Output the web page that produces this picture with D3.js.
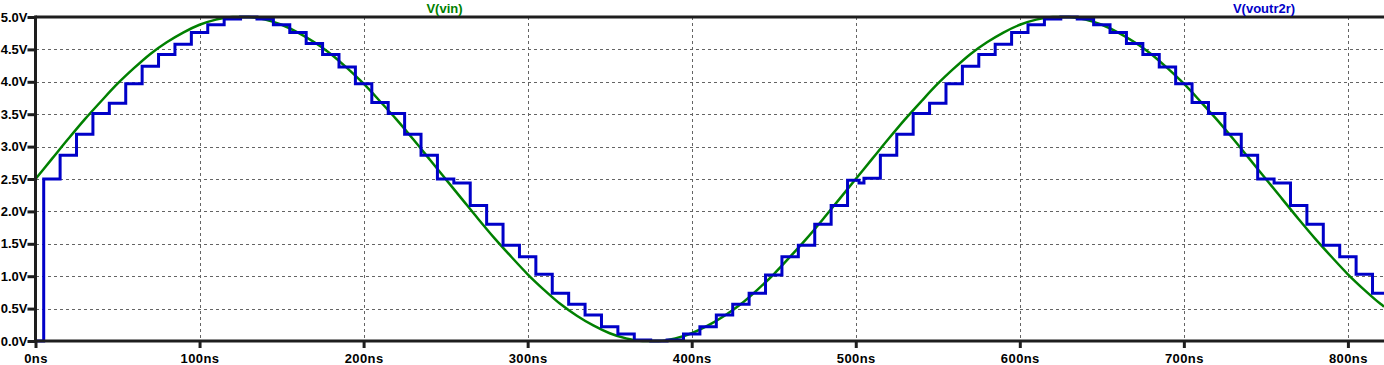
<!DOCTYPE html>
<html>
<head>
<meta charset="utf-8">
<script src="https://cdn.jsdelivr.net/npm/d3@7"></script>
<style>
  html, body { margin: 0; padding: 0; background: #fff; }
  svg { display: block; }
  text { font-family: "Liberation Sans", Arial, sans-serif; font-weight: bold; }
</style>
</head>
<body>
<svg id="chart" width="1384" height="365"></svg>
<script>
// ---- data ----
const xTickValues = [0, 100, 200, 300, 400, 500, 600, 700, 800];
const xTickLabels = ["0ns", "100ns", "200ns", "300ns", "400ns", "500ns", "600ns", "700ns", "800ns"];
const yTickValues = [0, 0.5, 1, 1.5, 2, 2.5, 3, 3.5, 4, 4.5, 5];
const yTickLabels = ["0.0V", "0.5V", "1.0V", "1.5V", "2.0V", "2.5V", "3.0V", "3.5V", "4.0V", "4.5V", "5.0V"];
const seriesNames = ["V(vin)", "V(voutr2r)"];

// V(vin): time (ns) and volts
const vinTimes = [0,10,20,30,40,50,60,70,80,90,100,110,120,130,140,150,160,170,180,190,
  200,210,220,230,240,250,260,270,280,290,300,310,320,330,340,350,360,370,380,390,
  400,410,420,430,440,450,460,470,480,490,500,510,520,530,540,550,560,570,580,590,
  600,610,620,630,640,650,660,670,680,690,700,710,720,730,740,750,760,770,780,790,
  800,810,820,822];
const vinValues = [2.50,2.81,3.12,3.42,3.70,3.97,4.21,4.43,4.61,4.76,4.88,4.96,5.00,5.00,4.96,4.88,4.76,4.61,4.43,4.21,
  3.97,3.70,3.42,3.12,2.81,2.50,2.19,1.88,1.58,1.30,1.03,0.79,0.57,0.39,0.24,0.12,0.04,0.00,0.00,0.04,
  0.12,0.24,0.39,0.57,0.79,1.03,1.30,1.58,1.88,2.19,2.50,2.81,3.12,3.42,3.70,3.97,4.21,4.43,4.61,4.76,
  4.88,4.96,5.00,5.00,4.96,4.88,4.76,4.61,4.43,4.21,3.97,3.70,3.42,3.12,2.81,2.50,2.19,1.88,1.58,1.30,
  1.03,0.79,0.57,0.53];

// V(voutr2r): step transition times (ns) and held volts
const outTimes = [0,5,15,25,35,45,55,65,75,85,95,105,115,125,135,145,155,165,175,185,195,
  205,215,225,235,245,255,265,275,285,295,305,315,325,335,345,355,365,375,385,395,
  405,415,425,435,445,455,465,475,485,495,502,505,515,525,535,545,555,565,575,585,595,
  605,615,625,635,645,655,665,675,685,695,705,715,725,735,745,755,765,775,785,795,
  805,815,822];
const outValues = [0.00,2.50,2.866,3.19,3.51,3.67,3.97,4.24,4.42,4.58,4.76,4.88,4.97,5.00,4.97,4.88,4.76,4.59,4.42,4.23,3.97,
  3.68,3.51,3.19,2.866,2.50,2.44,2.09,1.80,1.477,1.30,1.03,0.736,0.566,0.40,0.22,0.108,0.015,0.00,0.015,0.108,
  0.22,0.40,0.566,0.736,1.02,1.30,1.477,1.80,2.09,2.48,2.44,2.51,2.866,3.19,3.51,3.67,3.97,4.24,4.42,4.58,4.76,
  4.88,4.97,5.00,4.97,4.88,4.76,4.59,4.42,4.23,3.97,3.68,3.51,3.19,2.866,2.50,2.44,2.09,1.80,1.477,1.30,
  1.03,0.736,0.736];

// ---- layout ----
const svg = d3.select("#chart");
const mLeft = 35.5, mRight = 1384, mTop = 17, mBottom = 341;
const x = d3.scaleLinear().domain([0, 822]).range([mLeft, mRight]);
const y = d3.scaleLinear().domain([0, 5]).range([mBottom, mTop]);
const green = "#008000", blue = "#0000c8", axisCol = "#1e1e1e", gridCol = "#646464";

// grid
const grid = svg.append("g").attr("shape-rendering", "crispEdges");
grid.selectAll("line.h").data(yTickValues.filter(v => v > 0 && v < 5)).join("line")
  .attr("x1", mLeft).attr("x2", mRight)
  .attr("y1", d => Math.round(y(d)) + 0.5).attr("y2", d => Math.round(y(d)) + 0.5)
  .attr("stroke", gridCol).attr("stroke-width", 1).attr("stroke-dasharray", "3,3");
grid.selectAll("line.v").data(xTickValues.filter(v => v > 0)).join("line")
  .attr("y1", mTop).attr("y2", mBottom)
  .attr("x1", d => Math.round(x(d)) + 0.5).attr("x2", d => Math.round(x(d)) + 0.5)
  .attr("stroke", gridCol).attr("stroke-width", 1).attr("stroke-dasharray", "3,3");

// traces
const vinLine = d3.line().x((d, i) => x(vinTimes[i])).y(d => y(d)).curve(d3.curveMonotoneX);
svg.append("path").attr("d", vinLine(vinValues))
  .attr("fill", "none").attr("stroke", green).attr("stroke-width", 2.5);
const outLine = d3.line().x((d, i) => x(outTimes[i])).y(d => y(d)).curve(d3.curveStepAfter);
svg.append("path").attr("d", outLine(outValues))
  .attr("fill", "none").attr("stroke", blue).attr("stroke-width", 3).attr("stroke-linejoin", "miter");

// axes
const yAxis = d3.axisLeft(y).tickValues(yTickValues)
  .tickFormat((d, i) => yTickLabels[i]).tickSize(8).tickPadding(0);
const gy = svg.append("g").attr("transform", `translate(${mLeft},0)`).call(yAxis);
const xAxis = d3.axisBottom(x).tickValues(xTickValues)
  .tickFormat((d, i) => xTickLabels[i]).tickSize(7).tickPadding(6);
const gx = svg.append("g").attr("transform", `translate(0,${mBottom})`).call(xAxis);
[gx, gy].forEach(g => {
  g.select(".domain").remove();
  g.selectAll(".tick line").attr("stroke", axisCol).attr("stroke-width", 3);
  g.selectAll(".tick text").attr("fill", "#000").attr("font-size", 13)
    .attr("font-family", "Liberation Sans, Arial, sans-serif").attr("font-weight", "bold");
});
gx.selectAll(".tick text").attr("letter-spacing", "0.4px");

// frame lines (left, top, bottom)
const frame = svg.append("g").attr("stroke", axisCol).attr("stroke-width", 3);
frame.append("line").attr("x1", mLeft).attr("x2", mLeft).attr("y1", mTop - 1.5).attr("y2", mBottom + 1.5);
frame.append("line").attr("x1", mLeft).attr("x2", mRight).attr("y1", mTop).attr("y2", mTop);
frame.append("line").attr("x1", mLeft).attr("x2", mRight).attr("y1", mBottom).attr("y2", mBottom);

// legend labels
svg.append("text").attr("x", 444.5).attr("y", 12.5).attr("text-anchor", "middle")
  .attr("fill", green).attr("font-size", 13).text(seriesNames[0]);
svg.append("text").attr("x", 1264).attr("y", 12.5).attr("text-anchor", "middle")
  .attr("fill", blue).attr("font-size", 13).text(seriesNames[1]);
</script>
</body>
</html>
